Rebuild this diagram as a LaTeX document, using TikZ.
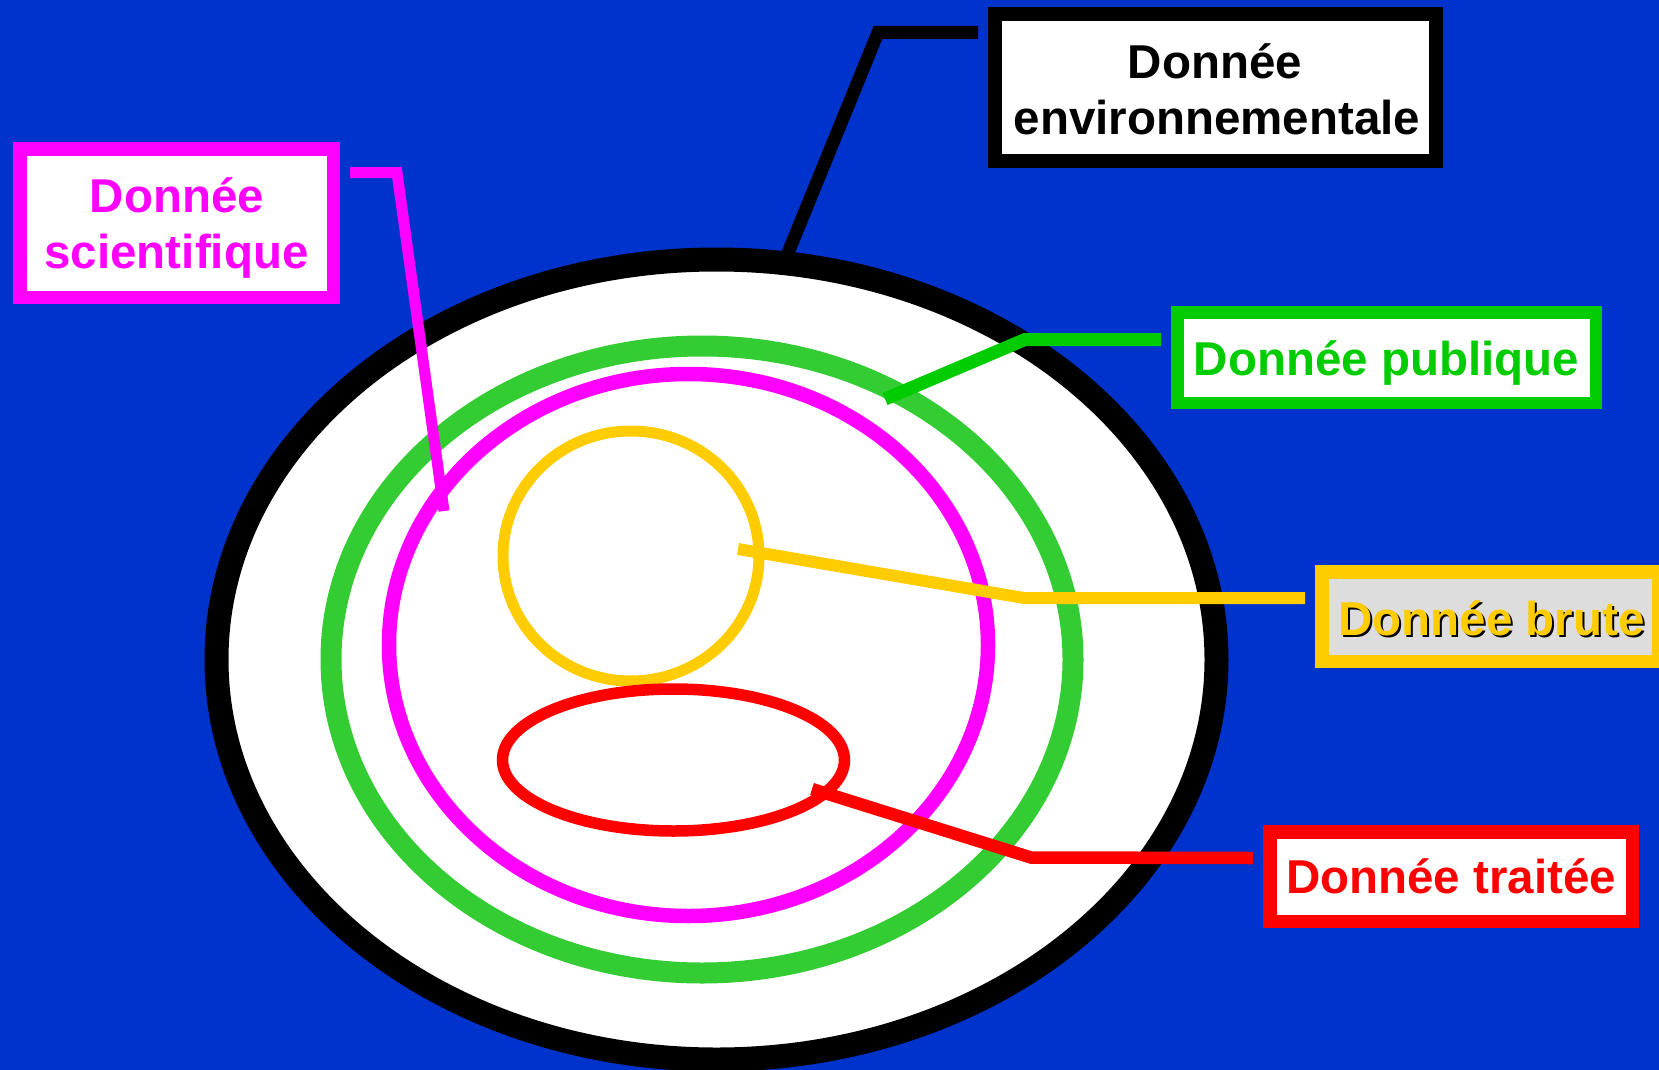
\documentclass[tikz,border=0pt]{standalone}
\usepackage{fontspec}
\setmainfont{Liberation Sans}
\definecolor{bg}{HTML}{0033CC}
\definecolor{grE}{HTML}{33CC33}
\definecolor{grL}{HTML}{00CC00}
\definecolor{mg}{HTML}{FF00FF}
\definecolor{yl}{HTML}{FFCC00}
\definecolor{rd}{HTML}{FF0000}
\definecolor{gy}{HTML}{DDDDDD}
\begin{document}
\begin{tikzpicture}[x=1pt,y=-1pt,line join=miter,
  box/.style={draw,rectangle,inner sep=0pt,outer sep=0pt,fill=white,line width=13.5pt},
  lbl/.style={font=\fontsize{47.5}{57}\selectfont\bfseries,inner sep=0pt,anchor=base},
  conn/.style={line width=12.5pt,line cap=butt}]
\useasboundingbox (0,0) rectangle (1659,1070);
\clip (0,0) rectangle (1659,1070);
\fill[bg] (0,0) rectangle (1659,1070);

% sets
\draw[line width=24pt,fill=white] (716.5,659.5) ellipse [x radius=500pt,y radius=400pt];
\draw[grE,line width=21pt] (702,659.5) ellipse [x radius=371pt,y radius=313.5pt];
\draw[mg,line width=14.5pt] (688.5,645) ellipse [x radius=299.5pt,y radius=271pt];
\draw[yl,line width=11pt] (631,556) ellipse [x radius=128pt,y radius=125pt];
\draw[rd,line width=11.5pt] (673.5,760) ellipse [x radius=171pt,y radius=71pt];

% label boxes
\node[box,draw=black,line width=14pt,minimum width=441pt,minimum height=147pt] (envbox) at (1215.5,87.5) {};
\node[lbl] (envt1) at (1215,78.5) {Donnée};
\node[lbl] (envt2) at (1217,134.5) {environnementale};

\node[box,draw=mg,minimum width=313.5pt,minimum height=148.5pt] (scibox) at (176.5,223) {};
\node[lbl,text=mg] (scit1) at (177,212.5) {Donnée};
\node[lbl,text=mg] (scit2) at (176.5,268.5) {scientifique};

\node[box,draw=grL,line width=12.5pt,minimum width=418.5pt,minimum height=90.5pt] (pubbox) at (1386.5,357.5) {};
\node[lbl,text=grL] (pubt) at (1386.5,375) {Donnée publique};

\node[box,draw=yl,fill=gy,minimum width=337pt,minimum height=89.5pt] (brubox) at (1490.25,616.5) {};
\node[lbl,text=black] (brushadow) at (1493.5,637) {Donnée brute};
\node[lbl,text=yl] (brut) at (1491.5,635) {Donnée brute};

\node[box,draw=rd,minimum width=362.5pt,minimum height=89.5pt] (trabox) at (1451,876.5) {};
\node[lbl,text=rd] (trat) at (1451,893) {Donnée traitée};

% connector points
\coordinate (envS) at (978,32.5);
\coordinate (envK) at (878,32.5);
\coordinate (envE) at (781,270);
\coordinate (sciS) at (350,172.5);
\coordinate (sciK) at (397,172.5);
\coordinate (sciE) at (444,511);
\coordinate (pubS) at (1161,339.5);
\coordinate (pubK) at (1025,339.5);
\coordinate (pubE) at (885,399);
\coordinate (bruS) at (1305,598);
\coordinate (bruK) at (1024,598);
\coordinate (bruE) at (738,549);
\coordinate (traS) at (1253,858);
\coordinate (traK) at (1031,857.5);
\coordinate (traE) at (812,789);

% connectors
\draw[conn,black,line width=13pt] (envS) -- (envK) -- (envE);
\draw[conn,mg,line width=11pt] (sciS) -- (sciK) -- (sciE);
\draw[conn,grL,line width=13pt] (pubS) -- (pubK) -- (pubE);
\draw[conn,yl,line width=12pt] (bruS) -- (bruK) -- (bruE);
\draw[conn,rd,line width=12.5pt] (traS) -- (traK) -- (traE);
\end{tikzpicture}
\end{document}
